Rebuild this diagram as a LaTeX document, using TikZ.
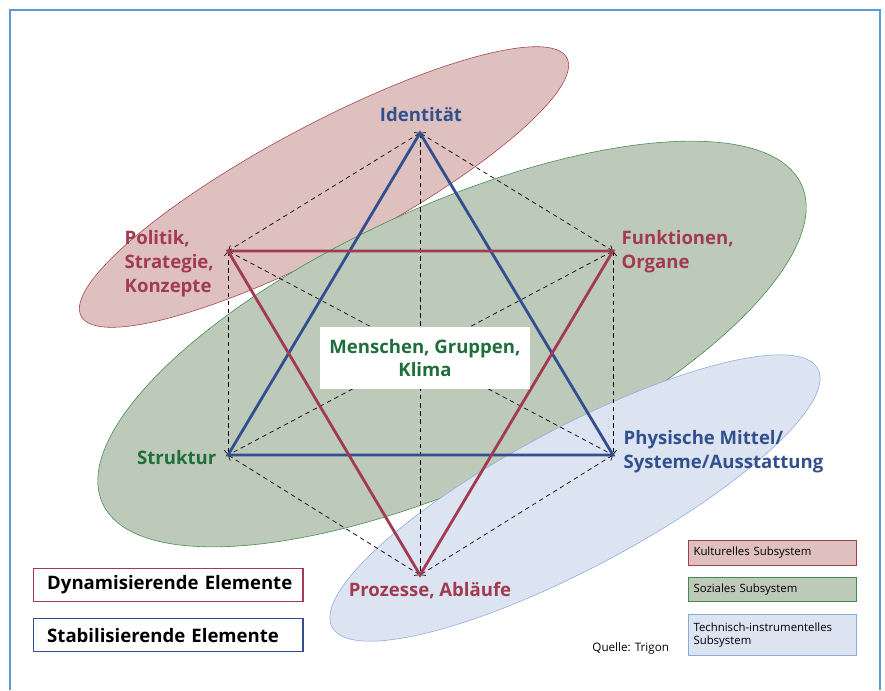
\documentclass[tikz,border=0pt]{standalone}
\usepackage{fontspec}
\setmainfont{Open Sans}
\usepackage{xcolor}
\usetikzlibrary{arrows.meta,positioning}
\definecolor{kultfill}{HTML}{DEC0BF}
\definecolor{kultdraw}{HTML}{A3404F}
\definecolor{sozfill}{HTML}{BDCAB9}
\definecolor{sozdraw}{HTML}{3F8A4E}
\definecolor{techfill}{HTML}{DCE4F2}
\definecolor{techdraw}{HTML}{8DAADC}
\definecolor{dynred}{HTML}{A23A50}
\definecolor{stabblue}{HTML}{33508E}
\definecolor{menschgreen}{HTML}{1F6E3B}
\definecolor{framecol}{HTML}{5B9BD5}

\begin{document}
\begin{tikzpicture}[
    x=0.025cm, y=-0.025cm,
    big/.style={font=\fontsize{13.2}{17}\selectfont\bfseries, inner sep=1pt},
    dyn/.style={big, text=dynred},
    stab/.style={big, text=stabblue},
    soz/.style={big, text=menschgreen},
    cube/.style={dash pattern=on 3.2pt off 2.6pt, line width=0.5pt, black,
      {Straight Barb[length=3pt,width=5pt]}-{Straight Barb[length=3pt,width=5pt]}},
    tri/.style={line width=2pt, line join=miter},
    legbig/.style={draw, line width=0.9pt, inner xsep=0.34cm, minimum height=0.82cm,
      text width=6.05cm, align=left, font=\fontsize{13.2}{15}\selectfont\bfseries},
    legsmall/.style={draw, line width=0.7pt, minimum width=4.2cm, text width=3.95cm,
      align=left, inner sep=3pt, font=\fontsize{8.1}{9.6}\selectfont}
  ]
    \useasboundingbox (0,0) rectangle (885,690);
    \draw[framecol, line width=1pt] (10,690) -- (10,10) -- (880,10) -- (880,690);

    \filldraw[fill=kultfill, draw=kultdraw, thin] (324,187) ellipse [x radius=6.875cm, y radius=1.55cm, rotate=28];
    \filldraw[fill=sozfill, draw=sozdraw, thin] (452,344) ellipse [x radius=9.6cm, y radius=3.45cm, rotate=24.5];
    \filldraw[fill=techfill, draw=techdraw, thin] (575,498) ellipse [x radius=6.875cm, y radius=1.75cm, rotate=28];

    \coordinate (ident) at (420,133);
    \coordinate (polit) at (228,251);
    \coordinate (funkt) at (613,251);
    \coordinate (strukt) at (228,455);
    \coordinate (phys) at (613,455);
    \coordinate (proz) at (420,575);

    \draw[cube] (ident) -- (polit);
    \draw[cube] (ident) -- (funkt);
    \draw[cube] (polit) -- (strukt);
    \draw[cube] (funkt) -- (phys);
    \draw[cube] (strukt) -- (proz);
    \draw[cube] (phys) -- (proz);
    \draw[cube] (ident) -- (proz);
    \draw[cube] (polit) -- (phys);
    \draw[cube] (funkt) -- (strukt);

    \draw[tri, stabblue] (ident) -- (strukt) -- (phys) -- cycle;
    \draw[tri, dynred] (polit) -- (funkt) -- (proz) -- cycle;

    \node[fill=white, minimum width=5.25cm, minimum height=1.55cm] (mensch) at (425,358) {};
    \node[soz, align=center] (menschtxt) at (mensch) {Menschen, Gruppen,\\Klima};

    \node[stab] (identlbl) at (421,115) {Identität};
    \node[dyn, align=left, anchor=north west] (politlbl) at (123,229) {Politik,\\Strategie,\\Konzepte};
    \node[dyn, align=left, anchor=north west] (funktlbl) at (620,229) {Funktionen,\\Organe};
    \node[soz, anchor=east] (struktlbl) at (218,458) {Struktur};
    \node[stab, align=left, anchor=north west] (physlbl) at (622,429) {Physische Mittel/\\Systeme/Ausstattung};
    \node[dyn] (prozlbl) at (430,591) {Prozesse, Abläufe};

    \node[legbig, draw=dynred, anchor=north west] (legdyn) at (33,568) {\mbox{Dynamisierende Elemente}};
    \node[legbig, draw=stabblue, anchor=north west] (legstab) at (33,618) {\mbox{Stabilisierende Elemente}};

    \node[legsmall, fill=kultfill, draw=kultdraw, anchor=north west, minimum height=0.62cm] (legkult) at (688,540) {Kulturelles Subsystem};
    \node[legsmall, fill=sozfill, draw=sozdraw, anchor=north west, minimum height=0.6cm] (legsoz) at (688,577) {Soziales Subsystem};
    \node[legsmall, fill=techfill, draw=techdraw, anchor=north west, minimum height=1.02cm] (legtech) at (688,614) {Technisch-instrumentelles\\Subsystem};

    \node[font=\fontsize{8.3}{9}\selectfont, anchor=east] (quelle) at (674,648) {Quelle: Trigon};
\end{tikzpicture}
\end{document}
